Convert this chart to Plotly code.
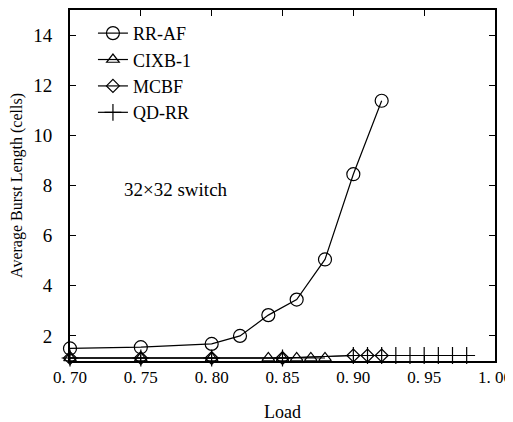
import plotly.graph_objects as go

# RR-AF
rraf_x = [0.70, 0.75, 0.80, 0.82, 0.84, 0.86, 0.88, 0.90, 0.92]
rraf_y = [1.50, 1.55, 1.68, 2.00, 2.83, 3.45, 5.05, 8.45, 11.38]
# CIXB-1
cixb_x = [0.70, 0.75, 0.80, 0.84, 0.85, 0.86, 0.87, 0.88]
cixb_y = [1.12, 1.12, 1.12, 1.12, 1.12, 1.12, 1.12, 1.12]
# MCBF
mcbf_x = [0.70, 0.75, 0.80, 0.85, 0.90, 0.91, 0.92]
mcbf_y = [1.12, 1.12, 1.12, 1.12, 1.22, 1.22, 1.22]
# QD-RR
qdrr_x = [0.70, 0.75, 0.80, 0.85, 0.90, 0.91, 0.92, 0.93, 0.94, 0.95, 0.96, 0.97, 0.98]
qdrr_y = [1.12, 1.12, 1.12, 1.12, 1.22, 1.22, 1.22, 1.22, 1.22, 1.22, 1.22, 1.22, 1.22]

x_ticks = [0.70, 0.75, 0.80, 0.85, 0.90, 0.95, 1.00]
x_tick_text = ["0. 70", "0. 75", "0. 80", "0. 85", "0. 90", "0. 95", "1. 00"]
y_ticks = [2, 4, 6, 8, 10, 12, 14]

FONT = "Liberation Serif"
black = "black"

fig = go.Figure()
series = [
    ("RR-AF", rraf_x, rraf_y, "circle-open", 13),
    ("CIXB-1", cixb_x, cixb_y, "triangle-up-open", 11),
    ("MCBF", mcbf_x, mcbf_y, "diamond-open", 10),
    ("QD-RR", qdrr_x, qdrr_y, "cross-thin-open", 12),
]
for name, xs, ys, sym, sz in series:
    fig.add_trace(go.Scatter(
        x=xs, y=ys, name=name, mode="lines+markers",
        line=dict(color=black, width=1.2),
        marker=dict(symbol=sym, size=sz, color=black, line=dict(color=black, width=1.2)),
        cliponaxis=False,
    ))

fig.add_annotation(x=0.775, y=7.85, text="32×32 switch", showarrow=False,
                   font=dict(family=FONT, size=19, color=black))

# page body has an 8px default margin, so the figure is sized to fit the window
fig.update_layout(
    width=505, height=414,
    margin=dict(l=62, r=18, t=2, b=61, autoexpand=False),
    paper_bgcolor="white", plot_bgcolor="white",
    font=dict(family=FONT, size=16, color=black),
    showlegend=True,
    legend=dict(x=0.054, y=0.986, xanchor="left", yanchor="top",
                bgcolor="rgba(0,0,0,0)", font=dict(family=FONT, size=18, color=black),
                tracegroupgap=0),
    xaxis=dict(range=[0.70, 1.00], tickvals=x_ticks, ticktext=x_tick_text,
               ticks="inside", ticklen=6, tickcolor=black, showgrid=False, zeroline=False,
               showline=True, linecolor=black, linewidth=2, mirror="ticks",
               automargin=False,
               title=dict(text="Load", font=dict(family=FONT, size=18), standoff=20),
               tickfont=dict(family=FONT, size=17)),
    yaxis=dict(range=[1, 15], tickvals=y_ticks,
               ticks="inside", ticklen=6, tickcolor=black, showgrid=False, zeroline=False,
               showline=True, linecolor=black, linewidth=2, mirror="ticks",
               ticklabelstandoff=12, automargin=False,
               title=dict(text="Average Burst Length (cells)", font=dict(family=FONT, size=16), standoff=9),
               tickfont=dict(family=FONT, size=19)),
)

fig.write_html("out.html")
